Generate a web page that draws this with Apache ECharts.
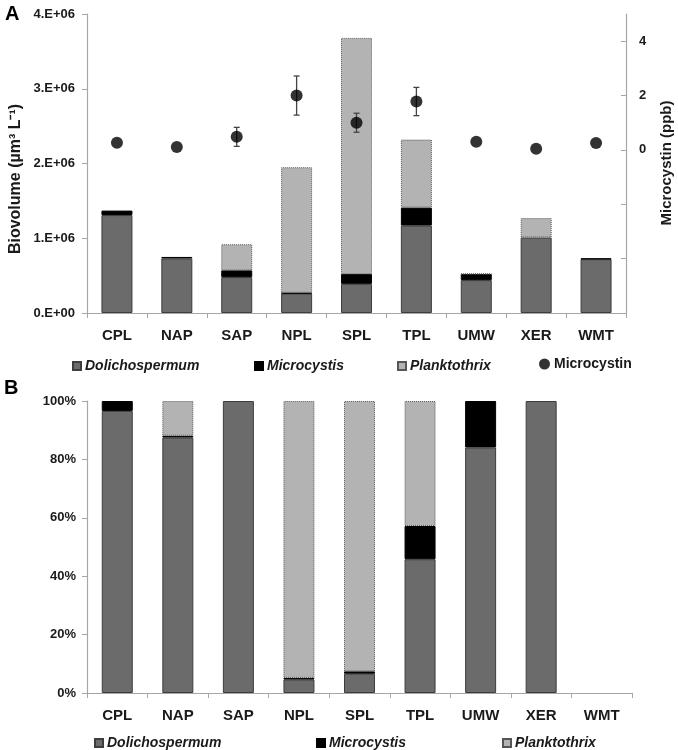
<!DOCTYPE html>
<html>
<head>
<meta charset="utf-8">
<script src="https://cdn.jsdelivr.net/npm/echarts@6/dist/echarts.min.js"></script>
<style>html,body{margin:0;padding:0;background:#fff}#c{width:678px;height:750px}</style>
</head>
<body>
<div id="c"></div>
<script>
// ---- data ----
const sites = ['CPL','NAP','SAP','NPL','SPL','TPL','UMW','XER','WMT'];
// Panel A: biovolume (µm³ L⁻¹)
const bioDolicho = [1310000, 730000, 480000, 260000, 390000, 1170000, 440000, 1010000, 720000];
const bioMicro   = [60000, 20000, 90000, 10000, 130000, 240000, 80000, 0, 10000];
const bioPlank   = [0, 0, 350000, 1680000, 3160000, 910000, 5000, 260000, 0];
// Microcystin (ppb) mean and error
const mcMean = [0.26, 0.11, 0.48, 2.0, 1.0, 1.78, 0.3, 0.04, 0.25];
const mcErr  = [0, 0, 0.35, 0.72, 0.35, 0.52, 0, 0, 0];
// Panel B: relative composition (%)
const pctDolicho = [96.6, 87.5, 100, 4.6, 6.6, 45.8, 84.1, 100, 0];
const pctMicro   = [3.4, 0.6, 0, 0.6, 0.8, 11.4, 15.9, 0, 0];
const pctPlank   = [0, 11.9, 0, 94.8, 92.6, 42.8, 0, 0, 0];
// tick labels
const leftTickLabels = ['0.E+00','1.E+06','2.E+06','3.E+06','4.E+06'];
const rightTickValues = [-6, -4, -2, 0, 2, 4];
const rightLabelValues = [0, 2, 4];
const pctTickLabels = ['0%','20%','40%','60%','80%','100%'];

const FONT = '"Liberation Sans", Arial, sans-serif';
const TXT = '#1a1a1a';
const AX = '#a6a6a6';
const cD = '#6b6b6b', cM = '#000000', cP = '#b3b3b3';

const chart = echarts.init(document.getElementById('c'), null, {renderer: 'canvas'});

function catAxis(grid) {
  return {
    type: 'category', gridIndex: grid, data: sites,
    axisLine: {lineStyle: {color: AX, width: 1.2}},
    axisTick: {show: true, length: 5, lineStyle: {color: AX}},
    axisLabel: {fontFamily: FONT, fontWeight: 'bold', fontSize: 15, color: TXT, margin: 15}
  };
}
const barItem = {
  D: {color: cD, borderColor: '#3d3d3d', borderWidth: 1},
  M: {color: cM, borderColor: '#000', borderWidth: 1},
  P: {color: cP, borderColor: '#555', borderWidth: 1, borderType: 'dotted'}
};
const nz = arr => arr.map(v => (v === 0 ? null : v));
function bars(xi, yi, d, m, p, stack, bw) {
  return [
    {name: 'Dolichospermum', type: 'bar', stack, xAxisIndex: xi, yAxisIndex: yi, data: nz(d), barWidth: bw, itemStyle: barItem.D, silent: true},
    {name: 'Microcystis', type: 'bar', stack, xAxisIndex: xi, yAxisIndex: yi, data: nz(m), barWidth: bw, itemStyle: barItem.M, silent: true},
    {name: 'Planktothrix', type: 'bar', stack, xAxisIndex: xi, yAxisIndex: yi, data: nz(p), barWidth: bw, itemStyle: barItem.P, silent: true}
  ];
}
const errData = sites.map((s, i) => [i, mcMean[i] - mcErr[i], mcMean[i] + mcErr[i]]);

function legendItem(name, left, top, italic, icon) {
  return {
    data: [{name, icon: icon || 'rect'}], left, top, itemWidth: icon === 'circle' ? 11 : 8, itemHeight: icon === 'circle' ? 11 : 8,
    itemGap: 4, selectedMode: false,
    textStyle: {fontFamily: FONT, fontWeight: 'bold', fontStyle: italic ? 'italic' : 'normal', fontSize: 14, color: TXT, padding: [0, 0, 0, -1]}
  };
}

const option = {
  animation: false,
  backgroundColor: '#fff',
  grid: [
    {left: 87, right: 52, top: 14, height: 299, containLabel: false},
    {left: 87, right: 46, top: 401, height: 292, containLabel: false}
  ],
  xAxis: [catAxis(0), catAxis(1)],
  yAxis: [
    {type: 'value', gridIndex: 0, min: 0, max: 4000000, interval: 1000000,
     axisLine: {show: true, lineStyle: {color: AX, width: 1.2}},
     axisTick: {show: true, length: 5, lineStyle: {color: AX}},
     splitLine: {show: false},
     axisLabel: {fontFamily: FONT, fontWeight: 'bold', fontSize: 13, color: TXT, margin: 12,
       formatter: v => leftTickLabels[Math.round(v / 1000000)]}},
    {type: 'value', gridIndex: 0, position: 'right', min: -6, max: 5,
     axisLine: {show: true, lineStyle: {color: AX, width: 1.2}},
     axisTick: {show: true, inside: true, length: 5, lineStyle: {color: AX}, customValues: rightTickValues},
     splitLine: {show: false},
     axisLabel: {fontFamily: FONT, fontWeight: 'bold', fontSize: 13, color: TXT, margin: 13, customValues: rightLabelValues,
       formatter: v => String(v)}},
    {type: 'value', gridIndex: 1, min: 0, max: 100, interval: 20,
     axisLine: {show: true, lineStyle: {color: AX, width: 1.2}},
     axisTick: {show: true, length: 5, lineStyle: {color: AX}},
     splitLine: {show: false},
     axisLabel: {fontFamily: FONT, fontWeight: 'bold', fontSize: 13, color: TXT, margin: 11,
       formatter: v => pctTickLabels[Math.round(v / 20)]}}
  ],
  legend: [
    legendItem('Dolichospermum', 67, 354, true),
    legendItem('Microcystis', 249, 354, true),
    legendItem('Planktothrix', 392, 354, true),
    legendItem('Microcystin', 534, 352, false, 'circle'),
    legendItem('Dolichospermum', 89, 731, true),
    legendItem('Microcystis', 311, 731, true),
    legendItem('Planktothrix', 497, 731, true)
  ],
  series: [
    ...bars(0, 0, bioDolicho, bioMicro, bioPlank, 'a', 31),
    ...bars(1, 2, pctDolicho, pctMicro, pctPlank, 'b', 31),
    {name: 'err', type: 'custom', xAxisIndex: 0, yAxisIndex: 1, data: errData, silent: true, z: 3,
     renderItem: function (params, api) {
       const x = api.coord([api.value(0), 0])[0];
       const lo = api.coord([api.value(0), api.value(1)])[1];
       const hi = api.coord([api.value(0), api.value(2)])[1];
       if (Math.abs(hi - lo) < 1) return {type: 'group', children: []};
       const st = {stroke: '#444', lineWidth: 1.3};
       return {type: 'group', children: [
         {type: 'line', shape: {x1: x, y1: lo, x2: x, y2: hi}, style: st},
         {type: 'line', shape: {x1: x - 3, y1: lo, x2: x + 3, y2: lo}, style: st},
         {type: 'line', shape: {x1: x - 3, y1: hi, x2: x + 3, y2: hi}, style: st}
       ]};
     }},
    {name: 'Microcystin', type: 'scatter', xAxisIndex: 0, yAxisIndex: 1, data: mcMean, symbol: 'circle', symbolSize: 12,
     itemStyle: {color: '#000'}, z: 4, silent: true}
  ],
  graphic: [
    {type: 'text', left: 5, top: 4, style: {text: 'A', font: 'bold 20px ' + FONT, fill: '#000'}},
    {type: 'text', left: 4, top: 378, style: {text: 'B', font: 'bold 20px ' + FONT, fill: '#000'}},
    {type: 'text', x: 16, y: 179, rotation: Math.PI / 2,
     style: {text: 'Biovolume (µm³ L⁻¹)', font: 'bold 16px ' + FONT, fill: TXT, align: 'center', verticalAlign: 'middle'}},
    {type: 'text', x: 667, y: 163, rotation: Math.PI / 2,
     style: {text: 'Microcystin (ppb)', font: 'bold 15px ' + FONT, fill: TXT, align: 'center', verticalAlign: 'middle'}}
  ]
};
chart.setOption(option);
</script>
</body>
</html>
